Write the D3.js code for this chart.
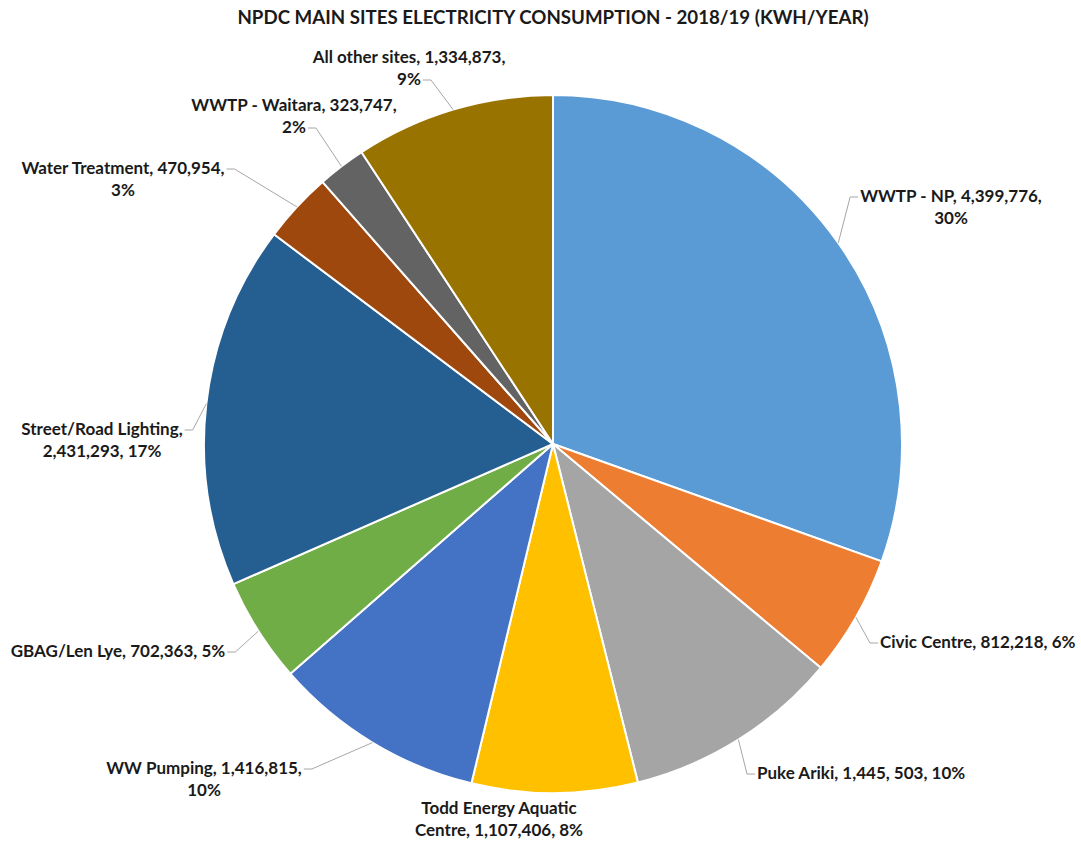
<!DOCTYPE html>
<html>
<head>
<meta charset="utf-8">
<script src="https://cdn.jsdelivr.net/npm/d3@7/dist/d3.min.js"></script>
<style>
  html, body { margin: 0; padding: 0; background: #fff; }
  svg text { font-family: Lato, "Open Sans", sans-serif; font-weight: 700; fill: #1a1a1a; }
</style>
</head>
<body>
<svg id="chart" width="1081" height="844"></svg>
<script>
// Sites and their annual electricity use (kWh/year), 2018/19
const sites = [
  "WWTP - NP", "Civic Centre", "Puke Ariki", "Todd Energy Aquatic Centre",
  "WW Pumping", "GBAG/Len Lye", "Street/Road Lighting", "Water Treatment",
  "WWTP - Waitara", "All other sites"
];
const consumption = [
  4399776, 812218, 1445503, 1107406,
  1416815, 702363, 2431293, 470954,
  323747, 1334873
];
const sliceColors = [
  "#5B9BD5", "#ED7D31", "#A5A5A5", "#FFC000",
  "#4472C4", "#70AD47", "#255E91", "#9E480E",
  "#636363", "#997300"
];
// Data label text, line by line, as printed on the chart
const labelLines = [
  ["WWTP - NP, 4,399,776,", "30%"],
  ["Civic Centre, 812,218, 6%"],
  ["Puke Ariki, 1,445, 503, 10%"],
  ["Todd Energy Aquatic", "Centre, 1,107,406, 8%"],
  ["WW Pumping, 1,416,815,", "10%"],
  ["GBAG/Len Lye, 702,363, 5%"],
  ["Street/Road Lighting,", "2,431,293, 17%"],
  ["Water Treatment, 470,954,", "3%"],
  ["WWTP - Waitara, 323,747,", "2%"],
  ["All other sites, 1,334,873,", "9%"]
];
const title = "NPDC MAIN SITES ELECTRICITY CONSUMPTION - 2018/19 (KWH/YEAR)";

// Label placement: text x, first baseline y, text anchor,
// and where the leader attaches (side of text, which line); null = no leader
const labelLayout = [
  { x: 951, y: 202, anchor: "middle", side: "left",  line: 0 },
  { x: 880, y: 648, anchor: "start",  side: "left",  line: 0 },
  { x: 757, y: 779, anchor: "start",  side: "left",  line: 0 },
  { x: 499, y: 814, anchor: "middle", side: null,    line: 0 },
  { x: 204, y: 774, anchor: "middle", side: "right", line: 0 },
  { x: 118, y: 657, anchor: "middle", side: "right", line: 0 },
  { x: 102, y: 435, anchor: "middle", side: "right", line: 0 },
  { x: 123, y: 174, anchor: "middle", side: "right", line: 0 },
  { x: 294, y: 111, anchor: "middle", side: "right", line: 1 },
  { x: 409, y: 63,  anchor: "middle", side: "right", line: 1 }
];

const svg = d3.select("#chart");
const cx = 553, cy = 444, radius = 349;
const lineHeight = 22;

svg.append("text")
  .attr("x", cx).attr("y", 24)
  .attr("text-anchor", "middle")
  .style("font-size", "18.7px")
  .text(title);

const pie = d3.pie().sort(null).value(d => d)
  .startAngle(0).endAngle(2 * Math.PI);
const arcs = pie(consumption);
const arc = d3.arc().innerRadius(0).outerRadius(radius);
const rimArc = d3.arc().innerRadius(radius).outerRadius(radius);

const g = svg.append("g").attr("transform", `translate(${cx},${cy})`);
g.selectAll("path.slice")
  .data(arcs)
  .join("path")
  .attr("class", "slice")
  .attr("d", arc)
  .attr("fill", (d, i) => sliceColors[i])
  .attr("stroke", "#fff")
  .attr("stroke-width", 2)
  .attr("stroke-linejoin", "round");

// Data labels with elbow leader lines to the slice rim
const labels = svg.append("g");
arcs.forEach((a, i) => {
  const lay = labelLayout[i];
  const t = labels.append("text")
    .attr("text-anchor", lay.anchor)
    .style("font-size", "17px");
  const tspans = labelLines[i].map((ln, k) =>
    t.append("tspan").attr("x", lay.x).attr("y", lay.y + k * lineHeight).text(ln));
  if (!lay.side) return;
  const box = tspans[lay.line].node().getBBox();
  const ay = lay.y + lay.line * lineHeight - 5;
  const ax = lay.side === "right" ? box.x + box.width + 2 : box.x - 2;
  const bx = lay.side === "right" ? ax + 8 : ax - 8;
  const [px, py] = rimArc.centroid(a);
  svg.append("polyline")
    .attr("points", `${ax},${ay} ${bx},${ay} ${cx + px},${cy + py}`)
    .attr("fill", "none")
    .attr("stroke", "#a6a6a6")
    .attr("stroke-width", 1);
});
</script>
</body>
</html>
